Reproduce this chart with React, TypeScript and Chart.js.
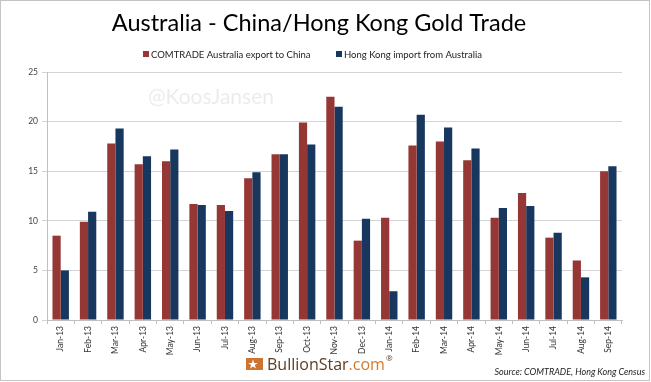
import { useEffect, useRef } from 'react';
import { Chart, registerables } from 'chart.js';

Chart.register(...registerables);

const FONT = 'Lato, "Open Sans", sans-serif';

const categories = ['Jan-13', 'Feb-13', 'Mar-13', 'Apr-13', 'May-13', 'Jun-13', 'Jul-13', 'Aug-13', 'Sep-13', 'Oct-13', 'Nov-13', 'Dec-13', 'Jan-14', 'Feb-14', 'Mar-14', 'Apr-14', 'May-14', 'Jun-14', 'Jul-14', 'Aug-14', 'Sep-14'];
const comtradeExport = [8.5, 9.9, 17.8, 15.7, 16.0, 11.7, 11.6, 14.3, 16.7, 19.9, 22.5, 8.0, 10.3, 17.6, 18.0, 16.1, 10.3, 12.8, 8.3, 6.0, 15.0];
const hongKongImport = [5.0, 10.9, 19.3, 16.5, 17.2, 11.6, 11.0, 14.9, 16.7, 17.7, 21.5, 10.2, 2.9, 20.7, 19.4, 17.3, 11.3, 11.5, 8.8, 4.3, 15.5];
const seriesNames = ['COMTRADE Australia export to China', 'Hong Kong import from Australia'];
const seriesColors = ['#953735', '#17375E'];
const yTicks = [0, 5, 10, 15, 20, 25];

const titleText = 'Australia - China/Hong Kong Gold Trade';
const watermarkText = '@KoosJansen';
const sourceText = 'Source: COMTRADE, Hong Kong Census';

const decor = {
  id: 'decor',
  beforeDraw(chart: any) {
    const { ctx, width, height } = chart;
    ctx.save();
    ctx.fillStyle = '#ffffff';
    ctx.fillRect(0, 0, width, height);
    ctx.restore();
  },
  beforeDatasetsDraw(chart: any) {
    const { ctx } = chart;
    ctx.save();
    ctx.font = `21px ${FONT}`;
    ctx.fillStyle = '#ececec';
    ctx.textAlign = 'left';
    ctx.textBaseline = 'alphabetic';
    ctx.fillText(watermarkText, 148, 104);
    ctx.restore();
  },
  afterDraw(chart: any) {
    const { ctx } = chart;
    ctx.save();
    // title
    ctx.font = `23.5px ${FONT}`;
    ctx.fillStyle = '#000000';
    ctx.textAlign = 'center';
    ctx.textBaseline = 'alphabetic';
    ctx.fillText(titleText, 319, 31);

    // legend
    ctx.font = `9.5px ${FONT}`;
    ctx.textAlign = 'left';
    ctx.textBaseline = 'middle';
    const legendX = [143, 336];
    chart.data.datasets.forEach((ds: any, i: number) => {
      ctx.fillStyle = ds.backgroundColor;
      ctx.fillRect(legendX[i], 51, 6, 6);
      ctx.fillStyle = '#222222';
      ctx.fillText(ds.label, legendX[i] + 8, 54.5);
    });

    // logo
    ctx.fillStyle = '#cc7430';
    ctx.fillRect(246, 358, 17, 12);
    ctx.fillStyle = '#ffffff';
    ctx.beginPath();
    const cx = 253, cy = 364.5;
    for (let k = 0; k < 10; k++) {
      const r = k % 2 === 0 ? 5 : 2;
      const a = -Math.PI / 2 + (k * Math.PI) / 5;
      const px = cx + r * Math.cos(a);
      const py = cy + r * Math.sin(a);
      if (k === 0) ctx.moveTo(px, py); else ctx.lineTo(px, py);
    }
    ctx.closePath();
    ctx.fill();
    ctx.font = `16px "Open Sans", sans-serif`;
    ctx.textBaseline = 'alphabetic';
    ctx.fillStyle = '#5b3b22';
    ctx.fillText('BullionStar', 267, 370);
    const w1 = ctx.measureText('BullionStar').width;
    ctx.fillStyle = '#d47a2c';
    ctx.fillText('.com', 267 + w1, 370);
    const w2 = ctx.measureText('.com').width;
    ctx.font = `8px "Open Sans", sans-serif`;
    ctx.fillStyle = '#5b3b22';
    ctx.fillText('®', 268 + w1 + w2, 361);

    // source
    ctx.font = `italic 9px ${FONT}`;
    ctx.fillStyle = '#222222';
    ctx.textAlign = 'right';
    ctx.fillText(sourceText, 645, 375);

    // frame
    ctx.strokeStyle = '#c4c4c4';
    ctx.lineWidth = 1;
    ctx.strokeRect(0.5, 0.5, 649, 380);
    ctx.restore();
  },
};

export default function App() {
  const ref = useRef<HTMLCanvasElement>(null);
  useEffect(() => {
    document.body.style.margin = '0';
    const canvas = ref.current;
    if (!canvas) return;
    const chart = new Chart(canvas, {
      type: 'bar',
      data: {
        labels: categories,
        datasets: [
          { label: seriesNames[0], data: comtradeExport, backgroundColor: seriesColors[0], borderWidth: 0 },
          { label: seriesNames[1], data: hongKongImport, backgroundColor: seriesColors[1], borderWidth: 0 },
        ],
      },
      options: {
        responsive: false,
        animation: false,
        devicePixelRatio: 1,
        layout: { padding: { top: 72, right: 29, left: 0, bottom: 0 } },
        datasets: { bar: { categoryPercentage: 0.6, barPercentage: 1.0 } },
        plugins: {
          legend: { display: false },
          title: { display: false },
          tooltip: { enabled: false },
        },
        scales: {
          x: {
            offset: true,
            grid: { offset: true, drawOnChartArea: false, drawTicks: true, tickLength: 4, color: '#bfbfbf' },
            border: { color: '#bfbfbf' },
            ticks: { minRotation: 90, maxRotation: 90, autoSkip: false, padding: 2, color: '#333333', font: { family: FONT, size: 8.5 } },
            afterFit: (s: any) => { s.height = 62; },
          },
          y: {
            min: 0,
            max: 25,
            afterBuildTicks: (s: any) => { s.ticks = yTicks.map((v) => ({ value: v })); },
            grid: { color: '#d4d4d4', tickLength: 5, lineWidth: 1 },
            border: { color: '#bfbfbf' },
            ticks: { padding: 4, color: '#444444', font: { family: FONT, size: 8.5 } },
            afterFit: (s: any) => { s.width = 47; },
          },
        },
      },
      plugins: [decor],
    });
    return () => chart.destroy();
  }, []);
  return (
    <div style={{ width: 651, height: 382 }}>
      <canvas ref={ref} width={651} height={382} style={{ display: 'block', width: 651, height: 382 }} />
    </div>
  );
}
